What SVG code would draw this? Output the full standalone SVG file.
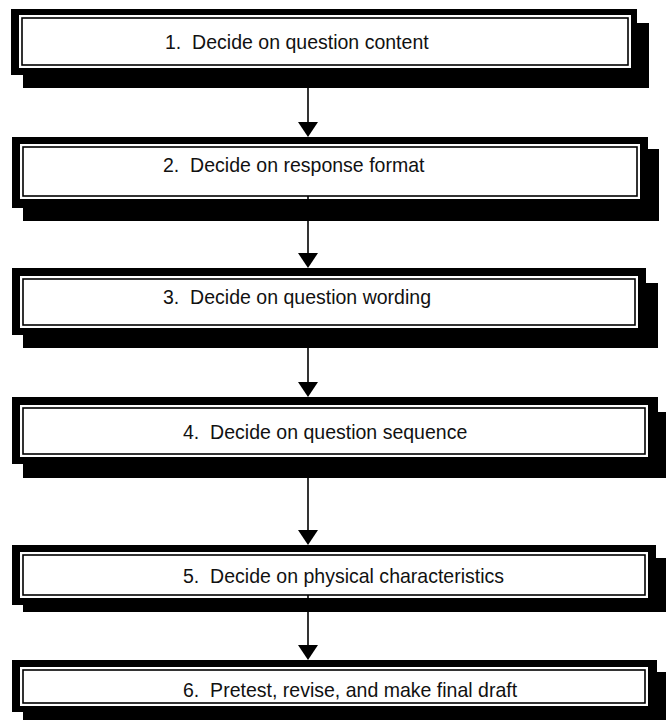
<svg xmlns="http://www.w3.org/2000/svg" width="666" height="723" viewBox="0 0 666 723">
  <style>
    .shadow, .frame { fill: #000; }
    .gap { fill: #fff; }
    .rule { fill: #fff; stroke: #000; stroke-width: 1.6; }
    .label { font-family: "Liberation Sans", Arial, sans-serif; font-size: 21px; fill: #111; white-space: pre; }
    .link { stroke: #000; stroke-width: 1.6; fill: none; }
    .head { fill: #000; }
  </style>
  <rect width="666" height="723" fill="#fff"/>

  <!-- step boxes: offset black shadow, black frame, double inner rule; labels slightly condensed -->
  <g id="step1">
    <rect class="shadow" x="23" y="23" width="626" height="65"/>
    <rect class="frame" x="11" y="9" width="626" height="66"/>
    <rect class="gap" x="19" y="15" width="612" height="53"/>
    <rect class="rule" x="22" y="18" width="606" height="47"/>
    <text class="label" transform="translate(165,49) scale(0.93,1)" xml:space="preserve">1.  Decide on question content</text>
  </g>
  <g id="step2">
    <rect class="shadow" x="23" y="149" width="636" height="72"/>
    <rect class="frame" x="12" y="137" width="636" height="71"/>
    <rect class="gap" x="20" y="144" width="620" height="55"/>
    <rect class="rule" x="23" y="147" width="614" height="49"/>
    <text class="label" transform="translate(163,172) scale(0.93,1)" xml:space="preserve">2.  Decide on response format</text>
  </g>
  <g id="step3">
    <rect class="shadow" x="23" y="283" width="635" height="65"/>
    <rect class="frame" x="12" y="268" width="634" height="67"/>
    <rect class="gap" x="20" y="276" width="618" height="52"/>
    <rect class="rule" x="23" y="279" width="612" height="46"/>
    <text class="label" transform="translate(163,304) scale(0.93,1)" xml:space="preserve">3.  Decide on question wording</text>
  </g>
  <g id="step4">
    <rect class="shadow" x="23" y="412" width="643" height="66"/>
    <rect class="frame" x="12" y="397" width="646" height="67"/>
    <rect class="gap" x="20" y="405" width="628" height="52"/>
    <rect class="rule" x="23" y="408" width="622" height="46"/>
    <text class="label" transform="translate(183,439) scale(0.93,1)" xml:space="preserve">4.  Decide on question sequence</text>
  </g>
  <g id="step5">
    <rect class="shadow" x="23" y="558" width="643" height="54"/>
    <rect class="frame" x="12" y="545" width="644" height="60"/>
    <rect class="gap" x="20" y="552" width="628" height="46"/>
    <rect class="rule" x="23" y="555" width="622" height="40"/>
    <text class="label" transform="translate(183,583) scale(0.93,1)" xml:space="preserve">5.  Decide on physical characteristics</text>
  </g>
  <g id="step6">
    <rect class="shadow" x="23" y="672" width="643" height="48"/>
    <rect class="frame" x="12" y="660" width="645" height="52"/>
    <rect class="gap" x="20" y="667" width="628" height="39"/>
    <rect class="rule" x="23" y="670" width="622" height="33"/>
    <text class="label" transform="translate(183,697) scale(0.93,1)" xml:space="preserve">6.  Pretest, revise, and make final draft</text>
  </g>

  <!-- downward arrows between steps -->
  <g id="connectors">
    <line class="link" x1="308" y1="88" x2="308" y2="124"/>
    <polygon class="head" points="298,122 318,122 308,137"/>
    <line class="link" x1="308" y1="196" x2="308" y2="255"/>
    <polygon class="head" points="298,253 318,253 308,268"/>
    <line class="link" x1="308" y1="348" x2="308" y2="384"/>
    <polygon class="head" points="298,382 318,382 308,397"/>
    <line class="link" x1="308" y1="478" x2="308" y2="532"/>
    <polygon class="head" points="298,530 318,530 308,545"/>
    <line class="link" x1="308" y1="595" x2="308" y2="647"/>
    <polygon class="head" points="298,645 318,645 308,660"/>
  </g>
</svg>
